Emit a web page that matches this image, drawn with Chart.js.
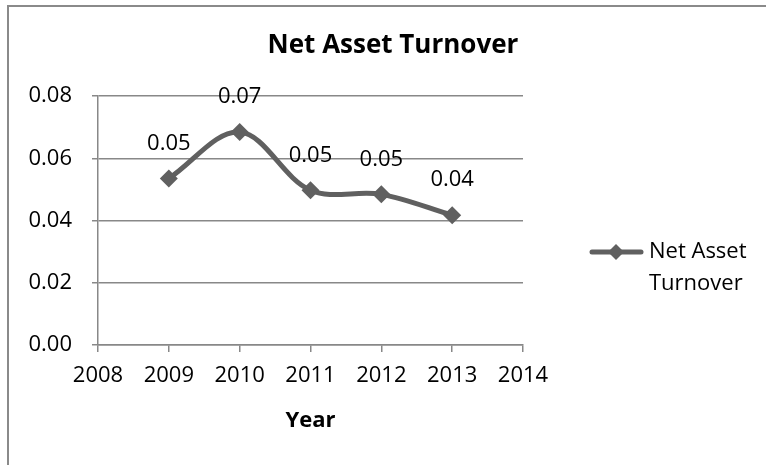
<!DOCTYPE html>
<html>
<head>
<meta charset="utf-8">
<script src="https://cdn.jsdelivr.net/npm/chart.js@4/dist/chart.umd.min.js"></script>
<style>
  html, body { margin:0; padding:0; width:766px; height:465px; overflow:hidden; background:#fff; }
  #wrap { position:relative; width:766px; height:465px; }
  #frame { position:absolute; left:7px; top:5px; width:800px; height:500px; border:2px solid #8a8a8a; pointer-events:none; }
  canvas { position:absolute; left:0; top:0; }
</style>
</head>
<body>
<div id="wrap">
  <canvas id="c" width="766" height="465"></canvas>
  <div id="frame"></div>
</div>
<script>
const chartTitle = "Net Asset Turnover";
const seriesName = "Net Asset Turnover";
const xAxisTitle = "Year";
const years = [2009, 2010, 2011, 2012, 2013];
const turnover = [0.0535, 0.0684, 0.0497, 0.0484, 0.0417];
const xTickRange = [2008, 2014];
const yTickRange = [0, 0.08];
const yStep = 0.02;

const FONT = "'Open Sans', Lato, sans-serif";
const FS = 22;
const LINE = '#606060';
const GRID = '#888888';

const extras = {
  id: 'extras',
  afterDatasetsDraw(chart) {
    const ctx = chart.ctx;
    const meta = chart.getDatasetMeta(0);
    const ds = chart.data.datasets[0];
    ctx.save();
    // data labels
    ctx.font = FS + "px " + FONT;
    ctx.fillStyle = '#000';
    ctx.textAlign = 'center';
    ctx.textBaseline = 'middle';
    meta.data.forEach((pt, i) => {
      ctx.fillText(ds.data[i].y.toFixed(2), pt.x, pt.y - 35);
    });
    // title
    ctx.font = "bold 26px " + FONT;
    ctx.fillText(chartTitle, 393, 46);
    // legend
    const ly = 252;
    ctx.strokeStyle = LINE;
    ctx.lineWidth = 5;
    ctx.lineCap = 'round';
    ctx.beginPath();
    ctx.moveTo(592, ly);
    ctx.lineTo(641, ly);
    ctx.stroke();
    ctx.fillStyle = LINE;
    ctx.beginPath();
    ctx.moveTo(616, ly - 8);
    ctx.lineTo(624, ly);
    ctx.lineTo(616, ly + 8);
    ctx.lineTo(608, ly);
    ctx.closePath();
    ctx.fill();
    ctx.fillStyle = '#000';
    ctx.font = FS + "px " + FONT;
    ctx.textAlign = 'left';
    const words = seriesName.split(' ');
    ctx.fillText(words.slice(0, 2).join(' '), 649, ly);
    ctx.fillText(words.slice(2).join(' '), 649, ly + 32);
    ctx.restore();
  }
};

new Chart(document.getElementById('c'), {
  type: 'line',
  data: {
    datasets: [{
      label: seriesName,
      data: years.map((y, i) => ({ x: y, y: turnover[i] })),
      borderColor: LINE,
      backgroundColor: LINE,
      borderWidth: 5,
      tension: 0.35,
      pointStyle: 'rectRot',
      pointRadius: 9,
      pointBorderWidth: 0,
      pointBackgroundColor: LINE,
      fill: false
    }]
  },
  options: {
    responsive: false,
    animation: false,
    layout: { padding: { top: 96, right: 243, left: 0, bottom: 0 } },
    plugins: {
      legend: { display: false },
      title: { display: false },
      tooltip: { enabled: false }
    },
    scales: {
      x: {
        type: 'linear',
        min: xTickRange[0],
        max: xTickRange[1],
        afterFit(s) { s.height = 120; },
        ticks: {
          stepSize: 1,
          callback: v => String(v),
          font: { family: FONT, size: FS },
          color: '#000',
          padding: 11,
          maxRotation: 0
        },
        grid: { drawOnChartArea: false, drawTicks: true, tickLength: 7, color: GRID, lineWidth: 1.5 },
        border: { display: true, color: GRID, width: 1.5 },
        title: {
          display: true,
          text: xAxisTitle,
          font: { family: FONT, size: FS, weight: 'bold' },
          color: '#000',
          padding: { top: 0, bottom: 31 }
        }
      },
      y: {
        min: yTickRange[0],
        max: yTickRange[1],
        afterFit(s) { s.width = 98; },
        ticks: {
          stepSize: yStep,
          callback: v => v.toFixed(2),
          font: { family: FONT, size: FS },
          color: '#000',
          padding: 20
        },
        grid: { drawTicks: true, tickLength: 6, color: GRID, lineWidth: 1.5 },
        border: { display: true, color: GRID, width: 1.5 }
      }
    }
  },
  plugins: [extras]
});
</script>
</body>
</html>
